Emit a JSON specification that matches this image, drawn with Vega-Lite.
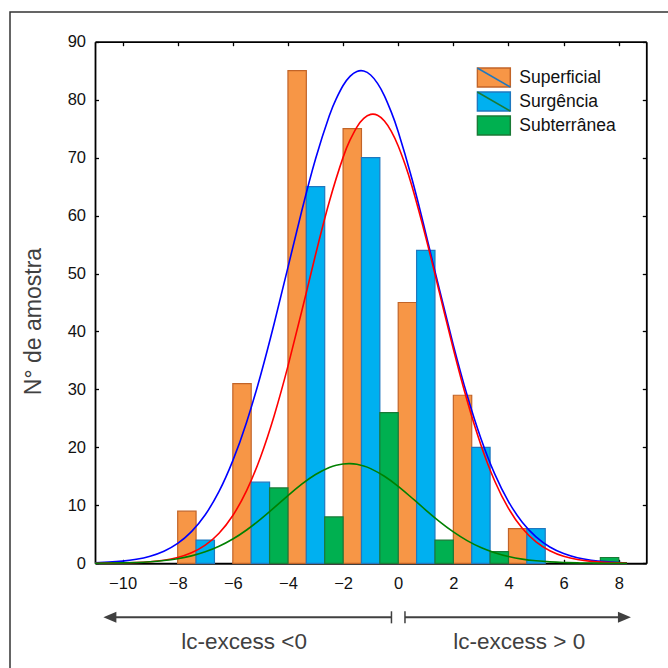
{
  "$schema": "https://vega.github.io/schema/vega-lite/v6.json",
  "width": 658,
  "height": 656,
  "autosize": {"type": "none"},
  "padding": {"left": 10, "top": 12, "right": 0, "bottom": 0},
  "background": "white",
  "config": {
    "view": {"stroke": "#333333", "strokeWidth": 1.5, "strokeDash": [658, 1314, 656, 20]},
    "font": "Liberation Sans",
    "axis": {
      "grid": false,
      "domainColor": "#000000",
      "domainWidth": 1.8,
      "tickColor": "#000000",
      "tickWidth": 1.3,
      "labelFont": "Liberation Sans",
      "labelFontSize": 16.5,
      "labelColor": "#111111",
      "titleFont": "Liberation Sans",
      "zindex": 1
    },
    "legend": {
      "labelFont": "Liberation Sans",
      "labelFontSize": 17.5,
      "labelColor": "#111111",
      "symbolSize": 400,
      "labelOffset": 21,
      "rowPadding": 3,
      "clipHeight": 21,
      "symbolStrokeWidth": 1.5
    }
  },
  "datasets": {
    "barras": [
      {"serie": "Superficial", "classe": -8, "n": 9},
      {"serie": "Superficial", "classe": -6, "n": 31},
      {"serie": "Superficial", "classe": -4, "n": 85},
      {"serie": "Superficial", "classe": -2, "n": 75},
      {"serie": "Superficial", "classe": 0, "n": 45},
      {"serie": "Superficial", "classe": 2, "n": 29},
      {"serie": "Superficial", "classe": 4, "n": 6},
      {"serie": "Surgência", "classe": -8, "n": 4},
      {"serie": "Surgência", "classe": -6, "n": 14},
      {"serie": "Surgência", "classe": -4, "n": 65},
      {"serie": "Surgência", "classe": -2, "n": 70},
      {"serie": "Surgência", "classe": 0, "n": 54},
      {"serie": "Surgência", "classe": 2, "n": 20},
      {"serie": "Surgência", "classe": 4, "n": 6},
      {"serie": "Subterrânea", "classe": -6, "n": 13},
      {"serie": "Subterrânea", "classe": -4, "n": 8},
      {"serie": "Subterrânea", "classe": -2, "n": 26},
      {"serie": "Subterrânea", "classe": 0, "n": 4},
      {"serie": "Subterrânea", "classe": 2, "n": 2},
      {"serie": "Subterrânea", "classe": 6, "n": 1}
    ],
    "curvas": [
      {"serie": "Superficial", "x": -11, "y": 0.1},
      {"serie": "Superficial", "x": -10.5, "y": 0.2},
      {"serie": "Superficial", "x": -10, "y": 0.37},
      {"serie": "Superficial", "x": -9.5, "y": 0.69},
      {"serie": "Superficial", "x": -9, "y": 1.22},
      {"serie": "Superficial", "x": -8.5, "y": 2.08},
      {"serie": "Superficial", "x": -8, "y": 3.43},
      {"serie": "Superficial", "x": -7.5, "y": 5.46},
      {"serie": "Superficial", "x": -7, "y": 8.38},
      {"serie": "Superficial", "x": -6.5, "y": 12.4},
      {"serie": "Superficial", "x": -6, "y": 17.71},
      {"serie": "Superficial", "x": -5.5, "y": 24.35},
      {"serie": "Superficial", "x": -5, "y": 32.33},
      {"serie": "Superficial", "x": -4.5, "y": 41.38},
      {"serie": "Superficial", "x": -4, "y": 51.07},
      {"serie": "Superficial", "x": -3.5, "y": 60.78},
      {"serie": "Superficial", "x": -3, "y": 69.76},
      {"serie": "Superficial", "x": -2.5, "y": 77.22},
      {"serie": "Superficial", "x": -2.25, "y": 80.15},
      {"serie": "Superficial", "x": -2, "y": 82.44},
      {"serie": "Superficial", "x": -1.75, "y": 84.02},
      {"serie": "Superficial", "x": -1.5, "y": 84.86},
      {"serie": "Superficial", "x": -1.25, "y": 84.94},
      {"serie": "Superficial", "x": -1, "y": 84.25},
      {"serie": "Superficial", "x": -0.75, "y": 82.81},
      {"serie": "Superficial", "x": -0.5, "y": 80.66},
      {"serie": "Superficial", "x": -0.25, "y": 77.85},
      {"serie": "Superficial", "x": 0, "y": 74.47},
      {"serie": "Superficial", "x": 0.5, "y": 66.31},
      {"serie": "Superficial", "x": 1, "y": 56.93},
      {"serie": "Superficial", "x": 1.5, "y": 47.15},
      {"serie": "Superficial", "x": 2, "y": 37.65},
      {"serie": "Superficial", "x": 2.5, "y": 28.99},
      {"serie": "Superficial", "x": 3, "y": 21.53},
      {"serie": "Superficial", "x": 3.5, "y": 15.42},
      {"serie": "Superficial", "x": 4, "y": 10.65},
      {"serie": "Superficial", "x": 4.5, "y": 7.09},
      {"serie": "Superficial", "x": 5, "y": 4.56},
      {"serie": "Superficial", "x": 5.5, "y": 2.82},
      {"serie": "Superficial", "x": 6, "y": 1.69},
      {"serie": "Superficial", "x": 6.5, "y": 0.97},
      {"serie": "Superficial", "x": 7, "y": 0.54},
      {"serie": "Superficial", "x": 7.5, "y": 0.29},
      {"serie": "Superficial", "x": 8, "y": 0.15},
      {"serie": "Superficial", "x": 8.3, "y": 0.1},
      {"serie": "Surgência", "x": -11, "y": 0.01},
      {"serie": "Surgência", "x": -10.5, "y": 0.03},
      {"serie": "Surgência", "x": -10, "y": 0.06},
      {"serie": "Surgência", "x": -9.5, "y": 0.13},
      {"serie": "Surgência", "x": -9, "y": 0.27},
      {"serie": "Surgência", "x": -8.5, "y": 0.53},
      {"serie": "Surgência", "x": -8, "y": 1.0},
      {"serie": "Surgência", "x": -7.5, "y": 1.81},
      {"serie": "Surgência", "x": -7, "y": 3.13},
      {"serie": "Surgência", "x": -6.5, "y": 5.19},
      {"serie": "Surgência", "x": -6, "y": 8.25},
      {"serie": "Surgência", "x": -5.5, "y": 12.54},
      {"serie": "Surgência", "x": -5, "y": 18.27},
      {"serie": "Surgência", "x": -4.5, "y": 25.47},
      {"serie": "Surgência", "x": -4, "y": 34.02},
      {"serie": "Surgência", "x": -3.5, "y": 43.49},
      {"serie": "Surgência", "x": -3, "y": 53.23},
      {"serie": "Surgência", "x": -2.5, "y": 62.4},
      {"serie": "Surgência", "x": -2, "y": 70.04},
      {"serie": "Surgência", "x": -1.75, "y": 73.0},
      {"serie": "Surgência", "x": -1.5, "y": 75.27},
      {"serie": "Surgência", "x": -1.25, "y": 76.77},
      {"serie": "Surgência", "x": -1, "y": 77.46},
      {"serie": "Surgência", "x": -0.75, "y": 77.31},
      {"serie": "Surgência", "x": -0.5, "y": 76.32},
      {"serie": "Surgência", "x": -0.25, "y": 74.54},
      {"serie": "Surgência", "x": 0, "y": 72.01},
      {"serie": "Surgência", "x": 0.25, "y": 68.82},
      {"serie": "Surgência", "x": 0.5, "y": 65.05},
      {"serie": "Surgência", "x": 1, "y": 56.27},
      {"serie": "Surgência", "x": 1.5, "y": 46.62},
      {"serie": "Surgência", "x": 2, "y": 36.98},
      {"serie": "Surgência", "x": 2.5, "y": 28.08},
      {"serie": "Surgência", "x": 3, "y": 20.42},
      {"serie": "Surgência", "x": 3.5, "y": 14.21},
      {"serie": "Surgência", "x": 4, "y": 9.48},
      {"serie": "Surgência", "x": 4.5, "y": 6.05},
      {"serie": "Surgência", "x": 5, "y": 3.7},
      {"serie": "Surgência", "x": 5.5, "y": 2.16},
      {"serie": "Surgência", "x": 6, "y": 1.21},
      {"serie": "Surgência", "x": 6.5, "y": 0.65},
      {"serie": "Surgência", "x": 7, "y": 0.33},
      {"serie": "Surgência", "x": 7.5, "y": 0.16},
      {"serie": "Surgência", "x": 8, "y": 0.08},
      {"serie": "Surgência", "x": 8.3, "y": 0.05},
      {"serie": "Subterrânea", "x": -11, "y": 0.02},
      {"serie": "Subterrânea", "x": -10.5, "y": 0.04},
      {"serie": "Subterrânea", "x": -10, "y": 0.08},
      {"serie": "Subterrânea", "x": -9.5, "y": 0.15},
      {"serie": "Subterrânea", "x": -9, "y": 0.27},
      {"serie": "Subterrânea", "x": -8.5, "y": 0.47},
      {"serie": "Subterrânea", "x": -8, "y": 0.79},
      {"serie": "Subterrânea", "x": -7.5, "y": 1.28},
      {"serie": "Subterrânea", "x": -7, "y": 1.98},
      {"serie": "Subterrânea", "x": -6.5, "y": 2.94},
      {"serie": "Subterrânea", "x": -6, "y": 4.19},
      {"serie": "Subterrânea", "x": -5.5, "y": 5.75},
      {"serie": "Subterrânea", "x": -5, "y": 7.58},
      {"serie": "Subterrânea", "x": -4.5, "y": 9.6},
      {"serie": "Subterrânea", "x": -4, "y": 11.68},
      {"serie": "Subterrânea", "x": -3.5, "y": 13.65},
      {"serie": "Subterrânea", "x": -3, "y": 15.33},
      {"serie": "Subterrânea", "x": -2.5, "y": 16.54},
      {"serie": "Subterrânea", "x": -2.25, "y": 16.92},
      {"serie": "Subterrânea", "x": -2, "y": 17.14},
      {"serie": "Subterrânea", "x": -1.75, "y": 17.2},
      {"serie": "Subterrânea", "x": -1.5, "y": 17.08},
      {"serie": "Subterrânea", "x": -1.25, "y": 16.79},
      {"serie": "Subterrânea", "x": -1, "y": 16.34},
      {"serie": "Subterrânea", "x": -0.5, "y": 15.02},
      {"serie": "Subterrânea", "x": 0, "y": 13.27},
      {"serie": "Subterrânea", "x": 0.5, "y": 11.27},
      {"serie": "Subterrânea", "x": 1, "y": 9.19},
      {"serie": "Subterrânea", "x": 1.5, "y": 7.2},
      {"serie": "Subterrânea", "x": 2, "y": 5.42},
      {"serie": "Subterrânea", "x": 2.5, "y": 3.92},
      {"serie": "Subterrânea", "x": 3, "y": 2.72},
      {"serie": "Subterrânea", "x": 3.5, "y": 1.82},
      {"serie": "Subterrânea", "x": 4, "y": 1.17},
      {"serie": "Subterrânea", "x": 4.5, "y": 0.72},
      {"serie": "Subterrânea", "x": 5, "y": 0.43},
      {"serie": "Subterrânea", "x": 5.5, "y": 0.24},
      {"serie": "Subterrânea", "x": 6, "y": 0.13},
      {"serie": "Subterrânea", "x": 6.5, "y": 0.07},
      {"serie": "Subterrânea", "x": 7, "y": 0.04},
      {"serie": "Subterrânea", "x": 7.5, "y": 0.02},
      {"serie": "Subterrânea", "x": 8, "y": 0.01},
      {"serie": "Subterrânea", "x": 8.3, "y": 0.01}
    ]
  },
  "layer": [
    {
      "data": {"name": "barras"},
      "transform": [
        {"calculate": "datum.classe + indexof(['Superficial', 'Surgência', 'Subterrânea'], datum.serie) * 2 / 3", "as": "x_ini"},
        {"calculate": "datum.x_ini + 2 / 3", "as": "x_fim"}
      ],
      "mark": {"type": "bar", "strokeWidth": 1.2},
      "encoding": {
        "x": {
          "field": "x_ini", "type": "quantitative",
          "scale": {"domain": [-11, 9], "range": [85, 636.3], "nice": false, "zero": false},
          "axis": {"orient": "bottom", "offset": -104.7, "values": [-10, -8, -6, -4, -2, 0, 2, 4, 6, 8], "tickSize": -4, "labelPadding": 16, "title": null, "domainWidth": 2}
        },
        "x2": {"field": "x_fim"},
        "y": {
          "field": "n", "type": "quantitative",
          "scale": {"domain": [0, 90], "range": [551.3, 29.7], "nice": false, "zero": true},
          "axis": {"orient": "left", "offset": -85, "values": [0, 10, 20, 30, 40, 50, 60, 70, 80, 90], "tickSize": -3.5, "labelPadding": 13, "title": "N° de amostra", "titleFontSize": 23, "titleColor": "#404040", "titleFontWeight": "normal", "titlePadding": 22, "titleY": 309}
        },
        "y2": {"datum": 0},
        "fill": {
          "field": "serie", "type": "nominal",
          "scale": {"domain": ["Superficial", "Surgência", "Subterrânea"], "range": ["#F79646", "#00B0F0", "#00B050"]},
          "legend": {
            "title": null, "orient": "none", "legendX": 466.3, "legendY": 55, "zindex": 0,
            "symbolType": "M-1,-0.95H2.3V0.95H-1Z",
            "symbolStrokeColor": {"expr": "datum.value === 'Superficial' ? '#C26428' : datum.value === 'Surgência' ? '#1F78BF' : '#1A7A36'"}
          }
        },
        "stroke": {
          "field": "serie", "type": "nominal",
          "scale": {"domain": ["Superficial", "Surgência", "Subterrânea"], "range": ["#C26428", "#1F78BF", "#1A7A36"]},
          "legend": null
        }
      }
    },
    {
      "data": {"name": "curvas"},
      "mark": {"type": "line", "interpolate": "natural", "strokeWidth": 1.6},
      "encoding": {
        "x": {
          "field": "x", "type": "quantitative",
          "axis": {"orient": "top", "offset": -29.7, "values": [-10, -8, -6, -4, -2, 0, 2, 4, 6, 8], "tickSize": -4, "labels": false, "title": null}
        },
        "y": {
          "field": "y", "type": "quantitative",
          "axis": {"orient": "right", "offset": -21.7, "values": [0, 10, 20, 30, 40, 50, 60, 70, 80, 90], "tickSize": -4, "labels": false, "title": null}
        },
        "color": {
          "field": "serie", "type": "nominal",
          "scale": {"domain": ["Superficial", "Surgência", "Subterrânea"], "range": ["#0000FF", "#FF0000", "#008000"]},
          "legend": null
        },
        "opacity": {
          "field": "serie", "type": "ordinal",
          "sort": ["Superficial", "Surgência", "Subterrânea"],
          "scale": {"range": [1, 1]},
          "legend": {
            "title": null, "orient": "none", "legendX": 466.3, "legendY": 55, "zindex": 1,
            "symbolType": "M-1,-0.95L2.3,0.95", "labelOpacity": 0,
            "symbolFillColor": "transparent",
            "symbolStrokeColor": {"expr": "datum.value === 'Superficial' ? '#1F78BF' : datum.value === 'Surgência' ? '#1A7A36' : 'transparent'"}
          }
        }
      }
    },
    {
      "data": {"values": [{}]},
      "mark": {"type": "rule", "color": "#404040", "strokeWidth": 2},
      "encoding": {"x": {"datum": -10.45, "axis": null}, "x2": {"datum": -0.245}, "y": {"datum": -9.32, "axis": null}}
    },
    {
      "data": {"values": [{}]},
      "mark": {"type": "rule", "color": "#404040", "strokeWidth": 2},
      "encoding": {"x": {"datum": 0.245, "axis": null}, "x2": {"datum": 8.2}, "y": {"datum": -9.32, "axis": null}}
    },
    {
      "data": {"values": [{}]},
      "mark": {"type": "rule", "color": "#404040", "strokeWidth": 1.5},
      "encoding": {"x": {"datum": -0.245, "axis": null}, "y": {"datum": -8.28, "axis": null}, "y2": {"datum": -10.36}}
    },
    {
      "data": {"values": [{}]},
      "mark": {"type": "rule", "color": "#404040", "strokeWidth": 1.5},
      "encoding": {"x": {"datum": 0.245, "axis": null}, "y": {"datum": -8.28, "axis": null}, "y2": {"datum": -10.36}}
    },
    {
      "data": {"values": [{}]},
      "mark": {"type": "point", "shape": "M-1,0L1,-0.85L1,0.85Z", "filled": true, "color": "#404040", "opacity": 1, "size": 169},
      "encoding": {"x": {"datum": -10.46, "axis": null}, "y": {"datum": -9.32, "axis": null}}
    },
    {
      "data": {"values": [{}]},
      "mark": {"type": "point", "shape": "M1,0L-1,-0.85L-1,0.85Z", "filled": true, "color": "#404040", "opacity": 1, "size": 169},
      "encoding": {"x": {"datum": 8.206, "axis": null}, "y": {"datum": -9.32, "axis": null}}
    },
    {
      "data": {"values": [{}]},
      "mark": {"type": "text", "fontSize": 22.5, "color": "#404040", "align": "center", "baseline": "alphabetic", "font": "Liberation Sans"},
      "encoding": {"x": {"datum": -5.59, "axis": null}, "y": {"datum": -14.8, "axis": null}, "text": {"value": "lc-excess <0"}}
    },
    {
      "data": {"values": [{}]},
      "mark": {"type": "text", "fontSize": 22.5, "color": "#404040", "align": "center", "baseline": "alphabetic", "font": "Liberation Sans"},
      "encoding": {"x": {"datum": 4.39, "axis": null}, "y": {"datum": -14.8, "axis": null}, "text": {"value": "lc-excess > 0"}}
    }
  ],
  "resolve": {"axis": {"x": "independent", "y": "independent"}}
}
